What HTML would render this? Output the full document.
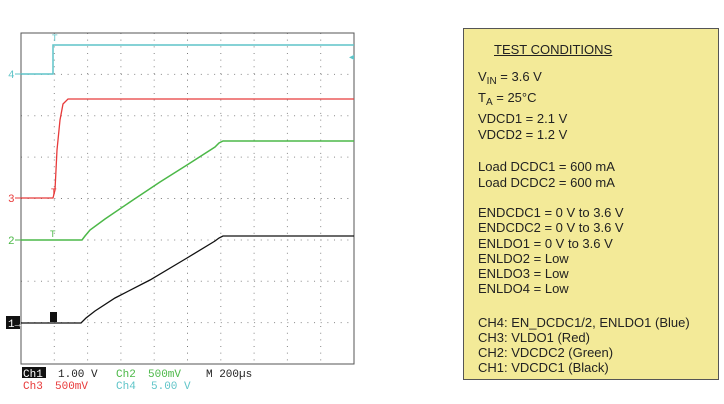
<!DOCTYPE html>
<html><head><style>
body{margin:0;width:724px;height:404px;background:#fff;overflow:hidden;position:relative;font-family:"Liberation Sans",sans-serif}
#box{position:absolute;left:463px;top:28px;width:254px;height:350px;background:#f3ea98;border:1px solid #555}
.t{position:absolute;left:14px;font-size:13px;color:#222;white-space:nowrap;line-height:15px}
sub{font-size:10px;vertical-align:-3px;line-height:0}
</style></head><body>
<svg width="724" height="404" style="position:absolute;left:0;top:0">
<g stroke="#888" stroke-width="1" stroke-dasharray="1 5.66">
<line x1="54.3" y1="33" x2="54.3" y2="364"/><line x1="87.6" y1="33" x2="87.6" y2="364"/><line x1="120.9" y1="33" x2="120.9" y2="364"/><line x1="154.2" y1="33" x2="154.2" y2="364"/>
<line x1="220.8" y1="33" x2="220.8" y2="364"/><line x1="254.1" y1="33" x2="254.1" y2="364"/><line x1="287.4" y1="33" x2="287.4" y2="364"/><line x1="320.7" y1="33" x2="320.7" y2="364"/>
<line x1="21" y1="74.4" x2="354" y2="74.4"/><line x1="21" y1="115.8" x2="354" y2="115.8"/><line x1="21" y1="157.1" x2="354" y2="157.1"/>
<line x1="21" y1="240" x2="354" y2="240"/><line x1="21" y1="281.3" x2="354" y2="281.3"/><line x1="21" y1="322.6" x2="354" y2="322.6"/>
</g>
<g stroke="#777" stroke-width="1" stroke-dasharray="1 5.66">
<line x1="187.5" y1="33" x2="187.5" y2="364"/><line x1="21" y1="198.5" x2="354" y2="198.5"/>
</g>
<rect x="21" y="33" width="333" height="331" fill="none" stroke="#555" stroke-width="1"/>
<polyline fill="none" stroke="#5fc4c8" stroke-width="1.5" points="21,74 53,74 53,45 354,45"/>
<polyline fill="none" stroke="#e83a3a" stroke-width="1.3" points="21,198 53,198 55,190 57,150 60,120 63,104 68,99 354,99"/>
<polyline fill="none" stroke="#4cb848" stroke-width="1.5" points="21,240 82,240 85,236 90,230 105,219 133,200 160,182 187,165 215,147 219,143 223,141 354,141"/>
<polyline fill="none" stroke="#111" stroke-width="1.3" points="21,323 81,323 86,318 95,311 115,298 150,280 187,258 215,241 219,238 223,236 354,236"/>
<text x="8" y="78" fill="#5fc4c8" font-size="11" font-family="Liberation Mono,monospace">4</text>
<text x="8" y="202" fill="#e83a3a" font-size="11" font-family="Liberation Mono,monospace">3</text>
<text x="8" y="244" fill="#4cb848" font-size="11" font-family="Liberation Mono,monospace">2</text>
<line x1="15" y1="74" x2="21" y2="74" stroke="#5fc4c8"/><line x1="15" y1="198" x2="21" y2="198" stroke="#e83a3a"/><line x1="15" y1="240" x2="21" y2="240" stroke="#4cb848"/>
<rect x="6" y="316" width="14" height="13" fill="#111"/><text x="8" y="327" fill="#fff" font-size="11" font-family="Liberation Mono,monospace">1→</text>
<text x="349" y="60" fill="#5fc4c8" font-size="10">◂</text>
<text x="52" y="41" fill="#5fc4c8" font-size="9">T</text>
<text x="51" y="195" fill="#e83a3a" font-size="9">T</text>
<text x="50" y="237" fill="#4cb848" font-size="9">T</text>
<rect x="50" y="312" width="7" height="10" fill="#111"/>
<g font-family="Liberation Mono,monospace" font-size="11">
<rect x="22" y="367" width="24" height="11" fill="#111"/>
<text x="23" y="377" fill="#fff">Ch1</text><text x="58" y="377" fill="#222">1.00 V</text>
<text x="116" y="377" fill="#4cb848">Ch2</text><text x="148" y="377" fill="#4cb848">500mV</text>
<text x="206" y="377" fill="#222">M 200µs</text>
<text x="23" y="389" fill="#e83a3a">Ch3</text><text x="55" y="389" fill="#e83a3a">500mV</text>
<text x="116" y="389" fill="#5fc4c8">Ch4</text><text x="151" y="389" fill="#5fc4c8">5.00 V</text>
</g>
</svg>
<div id="box">
<div class="t" style="left:30px;top:13px;text-decoration:underline">TEST CONDITIONS</div>
<div class="t" style="top:40px">V<sub>IN</sub> = 3.6 V</div>
<div class="t" style="top:61px">T<sub>A</sub> = 25°C</div>
<div class="t" style="top:82px">VDCD1 = 2.1 V</div>
<div class="t" style="top:98px">VDCD2 = 1.2 V</div>
<div class="t" style="top:130px">Load DCDC1 = 600 mA</div>
<div class="t" style="top:146px">Load DCDC2 = 600 mA</div>
<div class="t" style="top:176px">ENDCDC1 = 0 V to 3.6 V</div>
<div class="t" style="top:191px">ENDCDC2 = 0 V to 3.6 V</div>
<div class="t" style="top:207px">ENLDO1 = 0 V to 3.6 V</div>
<div class="t" style="top:222px">ENLDO2 = Low</div>
<div class="t" style="top:237px">ENLDO3 = Low</div>
<div class="t" style="top:252px">ENLDO4 = Low</div>
<div class="t" style="top:286px">CH4: EN_DCDC1/2, ENLDO1 (Blue)</div>
<div class="t" style="top:301px">CH3: VLDO1 (Red)</div>
<div class="t" style="top:316px">CH2: VDCDC2 (Green)</div>
<div class="t" style="top:331px">CH1: VDCDC1 (Black)</div>
</div>
</body></html>
